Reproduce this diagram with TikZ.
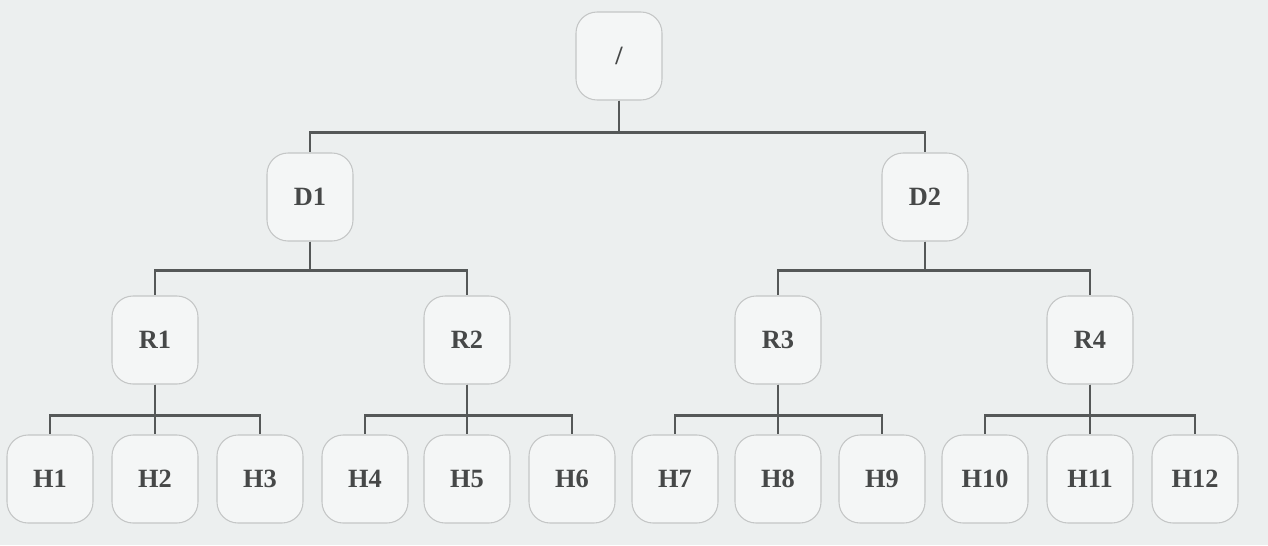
\documentclass[tikz,border=0pt]{standalone}
\usepackage{fontspec}
\setmainfont{Liberation Serif}
\usepackage{tikz}

\definecolor{pagebg}{RGB}{236,239,239}
\definecolor{boxfill}{RGB}{244,246,246}
\definecolor{boxline}{RGB}{196,198,198}
\definecolor{wire}{RGB}{85,88,88}
\definecolor{ink}{RGB}{70,72,72}

\tikzset{
    tnode/.style={draw=boxline, fill=boxfill, rounded corners=0.42cm, line width=0.6pt,
        minimum width=1.72cm, minimum height=1.76cm, inner sep=0pt,
        text=ink, font=\fontsize{15}{18}\selectfont\bfseries},
    wire/.style={draw=wire, line width=1.6pt}
}

\begin{document}
\begin{tikzpicture}[x=0.02cm, y=-0.02cm]
    \fill[pagebg] (0,0) rectangle (1268,545);
    \useasboundingbox (0,0) rectangle (1268,545);

    \node[tnode] (root) at (619,56) {/};
    \node[tnode] (D1) at (310,197) {D1};
    \node[tnode] (D2) at (925,197) {D2};
    \node[tnode] (R1) at (155,340) {R1};
    \node[tnode] (R2) at (467,340) {R2};
    \node[tnode] (R3) at (778,340) {R3};
    \node[tnode] (R4) at (1090,340) {R4};
    \node[tnode] (H1) at (50,479) {H1};
    \node[tnode] (H2) at (155,479) {H2};
    \node[tnode] (H3) at (260,479) {H3};
    \node[tnode] (H4) at (365,479) {H4};
    \node[tnode] (H5) at (467,479) {H5};
    \node[tnode] (H6) at (572,479) {H6};
    \node[tnode] (H7) at (675,479) {H7};
    \node[tnode] (H8) at (778,479) {H8};
    \node[tnode] (H9) at (882,479) {H9};
    \node[tnode] (H10) at (985,479) {H10};
    \node[tnode] (H11) at (1090,479) {H11};
    \node[tnode] (H12) at (1195,479) {H12};

    \draw[wire] (root.south) -- ++(0,32) -| (D1.north);
    \draw[wire] (root.south) -- ++(0,32) -| (D2.north);
    \draw[wire] (D1.south) -- ++(0,29) -| (R1.north);
    \draw[wire] (D1.south) -- ++(0,29) -| (R2.north);
    \draw[wire] (D2.south) -- ++(0,29) -| (R3.north);
    \draw[wire] (D2.south) -- ++(0,29) -| (R4.north);
    \draw[wire] (R1.south) -- ++(0,31) -| (H1.north);
    \draw[wire] (R1.south) -- (H2.north);
    \draw[wire] (R1.south) -- ++(0,31) -| (H3.north);
    \draw[wire] (R2.south) -- ++(0,31) -| (H4.north);
    \draw[wire] (R2.south) -- (H5.north);
    \draw[wire] (R2.south) -- ++(0,31) -| (H6.north);
    \draw[wire] (R3.south) -- ++(0,31) -| (H7.north);
    \draw[wire] (R3.south) -- (H8.north);
    \draw[wire] (R3.south) -- ++(0,31) -| (H9.north);
    \draw[wire] (R4.south) -- ++(0,31) -| (H10.north);
    \draw[wire] (R4.south) -- (H11.north);
    \draw[wire] (R4.south) -- ++(0,31) -| (H12.north);
\end{tikzpicture}
\end{document}
